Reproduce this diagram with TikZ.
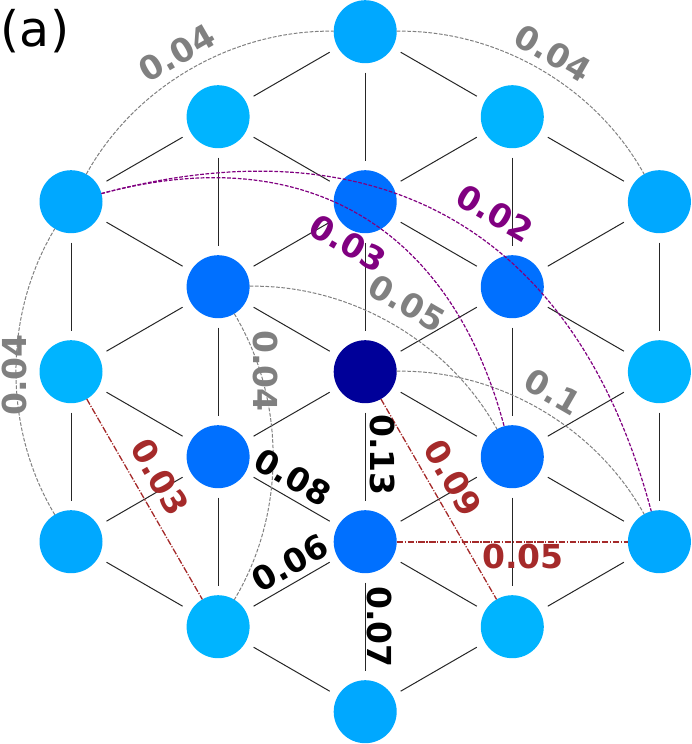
\documentclass[tikz,border=0pt]{standalone}
\usepackage{fontspec}
\setmainfont{DejaVu Sans}
\usetikzlibrary{calc}
\definecolor{lightA}{HTML}{00B4FF}
\definecolor{lightB}{HTML}{00A8FF}
\definecolor{midb}{HTML}{0070FF}
\definecolor{darkb}{HTML}{000099}
\definecolor{purp}{HTML}{800080}
\definecolor{brn}{HTML}{A52A2A}
\definecolor{gry}{HTML}{808080}
\newcommand\qcurve[4]{%
  \coordinate (qc) at ($(#1)!0.5!(#2)!#3!90:(#2)$);
  \draw[#4] (#1) .. controls ($(#1)!2/3!(qc)$) and ($(#2)!2/3!(qc)$) .. (#2);
}
\begin{document}
\begin{tikzpicture}[x=1pt,y=-1pt,
  nd/.style={circle,draw=none,minimum size=63pt,inner sep=0pt,outer sep=0pt},
  edge/.style={line width=1pt,black!85,shorten <=9.5pt,shorten >=9.5pt},
  gcurve/.style={gry,line width=1pt,dash pattern=on 3.7pt off 1.6pt},
  pcurve/.style={purp,line width=1.2pt,dash pattern=on 3.7pt off 1.6pt},
  rline/.style={brn,line width=1.3pt,dash pattern=on 6.4pt off 1.6pt on 1.2pt off 1.6pt},
  lab/.style={font=\fontsize{33}{33}\selectfont\bfseries,inner sep=0pt},
]
\useasboundingbox (0,0) rectangle (692,744);
% nodes
\node[nd,fill=lightB] (a1) at (71,201.7) {};
\node[nd,fill=lightA] (a2) at (71,371.7) {};
\node[nd,fill=lightB] (a3) at (71,541.7) {};
\node[nd,fill=lightA] (b1) at (218.1,116.7) {};
\node[nd,fill=midb] (b2) at (218.1,286.7) {};
\node[nd,fill=midb] (b3) at (218.1,456.7) {};
\node[nd,fill=lightA] (b4) at (218.1,626.7) {};
\node[nd,fill=lightB] (c1) at (365.2,31.7) {};
\node[nd,fill=midb] (c2) at (365.2,201.7) {};
\node[nd,fill=darkb] (c3) at (365.2,371.7) {};
\node[nd,fill=midb] (c4) at (365.2,541.7) {};
\node[nd,fill=lightB] (c5) at (365.2,711.7) {};
\node[nd,fill=lightA] (d1) at (512.3,116.7) {};
\node[nd,fill=midb] (d2) at (512.3,286.7) {};
\node[nd,fill=midb] (d3) at (512.3,456.7) {};
\node[nd,fill=lightA] (d4) at (512.3,626.7) {};
\node[nd,fill=lightB] (e1) at (659.4,201.7) {};
\node[nd,fill=lightA] (e2) at (659.4,371.7) {};
\node[nd,fill=lightB] (e3) at (659.4,541.7) {};
% lattice edges
\foreach \u/\v in {a1/a2,a2/a3,b1/b2,b2/b3,b3/b4,c1/c2,c2/c3,c3/c4,c4/c5,d1/d2,d2/d3,d3/d4,e1/e2,e2/e3,
  a1/b1,a1/b2,a2/b2,a2/b3,a3/b3,a3/b4,
  b1/c1,b1/c2,b2/c2,b2/c3,b3/c3,b3/c4,b4/c4,b4/c5,
  c1/d1,c2/d1,c2/d2,c3/d2,c3/d3,c4/d3,c4/d4,c5/d4,
  d1/e1,d2/e1,d2/e2,d3/e2,d3/e3,d4/e3}
  \draw[edge] (\u) -- (\v);
% curved links
\qcurve{a1}{c1}{0.6}{gcurve}
\qcurve{c1}{e1}{0.6}{gcurve}
\qcurve{a3}{a1}{0.6}{gcurve}
\qcurve{b2}{b4}{0.6}{gcurve}
\qcurve{b2}{d3}{0.6}{gcurve}
\qcurve{c3}{e3}{0.6}{gcurve}
\qcurve{a1}{d3}{1.0}{pcurve}
\qcurve{a1}{e3}{1.0}{pcurve}
% straight dash-dot links
\draw[rline] (a2) -- (b4);
\draw[rline] (c3) -- (d4);
\draw[rline,line width=2pt] (c4) -- (e3);
% labels
\node[lab,gry,rotate=30] (l1) at (177,53) {0.04};
\node[lab,gry,rotate=-30] (l2) at (553,53) {0.04};
\node[lab,gry,rotate=90] (l3) at (14,375) {0.04};
\node[lab,gry,rotate=-90] (l4) at (266,371) {0.04};
\node[lab,purp,rotate=-30] (l5) at (348,243) {0.03};
\node[lab,purp,rotate=-30] (l6) at (495,213) {0.02};
\node[lab,gry,rotate=-30] (l7) at (407,303) {0.05};
\node[lab,gry,rotate=-30] (l8) at (553,392) {0.1};
\node[lab,black,rotate=-90] (l9) at (383,455) {0.13};
\node[lab,brn,rotate=-60] (l10) at (453,478) {0.09};
\node[lab,brn,rotate=-60] (l11) at (160,477) {0.03};
\node[lab,black,rotate=-30] (l12) at (293,477) {0.08};
\node[lab,black,rotate=30] (l13) at (290,563) {0.06};
\node[lab,black,rotate=-90] (l14) at (380,627) {0.07};
\node[lab,brn] (l15) at (523,556) {0.05};
\node[font=\fontsize{49}{49}\selectfont] (title) at (35,31) {(a)};
\end{tikzpicture}
\end{document}
